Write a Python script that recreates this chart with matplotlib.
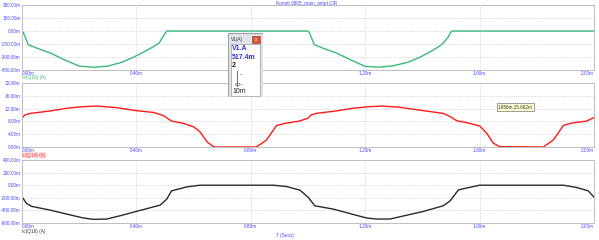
import matplotlib.pyplot as plt
from matplotlib.patches import Rectangle

plt.rcParams['font.family'] = ['Liberation Sans', 'DejaVu Sans']

# ---- data (time in ms, currents in mA) ----
t_ie = [0, 0.005, 0.022, 0.05, 0.1, 0.15, 0.2, 0.25, 0.3, 0.35, 0.39, 0.43, 0.46, 0.48, 0.49, 0.506,
        1.0, 1.005, 1.022, 1.05, 1.1, 1.15, 1.2, 1.25, 1.3, 1.35, 1.39, 1.43, 1.46, 1.473, 1.49, 1.502, 2.0]
ie_q16 = [0, -20, -158, -195, -255, -335, -405, -418, -405, -360, -302, -235, -180, -138, -80, 0,
          0, -20, -158, -195, -255, -335, -408, -418, -400, -360, -305, -235, -175, -138, -70, 0, 0]

t_ic14 = [0, 0.01, 0.028, 0.098, 0.156, 0.214, 0.26, 0.33, 0.40, 0.46, 0.495, 0.523, 0.564, 0.6, 0.622,
          0.648, 0.67, 0.675, 0.82, 0.855, 0.89, 0.92, 0.97, 1.0,
          1.01, 1.028, 1.098, 1.156, 1.214, 1.26, 1.322, 1.40, 1.473, 1.495, 1.52, 1.555, 1.6, 1.625,
          1.648, 1.67, 1.823, 1.858, 1.893, 1.917, 1.974, 2.0]
ic_q14 = [9.0, 10.0, 10.5, 11.25, 12.1, 12.6, 12.8, 12.3, 11.35, 10.8, 9.8, 8.1, 7.4, 6.3, 4.8,
          1.5, 0.1, 0, 0, 2.2, 6.7, 7.4, 8.1, 9.0,
          10.0, 10.5, 11.25, 12.1, 12.6, 12.8, 12.4, 11.4, 10.5, 9.6, 8.2, 7.6, 6.6, 4.3,
          1.2, 0.1, 0, 2.2, 6.7, 7.4, 8.1, 9.2]

t_ic16 = [0, 0.016, 0.034, 0.098, 0.156, 0.214, 0.25, 0.296, 0.343, 0.40, 0.483, 0.506, 0.523, 0.576, 0.622,
          0.879, 0.925, 0.972, 1.001, 1.024, 1.088, 1.205, 1.24, 1.287, 1.322, 1.40, 1.473, 1.497, 1.526,
          1.6, 1.893, 1.94, 1.98, 2.0]
ic_q16 = [-185, -290, -336, -395, -458, -520, -542, -537, -485, -416, -316, -221, -90, -27, 0,
          0, -21, -79, -195, -327, -379, -521, -537, -537, -500, -420, -327, -248, -74,
          0, 0, -37, -90, -190]

x_ticks = [0, 0.4, 0.8, 1.2, 1.6, 2.0]
y_ticks_top = [-450, -300, -150, 0, 150, 300]
y_ticks_mid = [0, 4, 8, 12, 16, 20]
y_ticks_bot = [-600, -400, -200, 0, 200, 400]

BLUE = '#4a4aff'
GRID = '#c8c8c8'
FS = 3.4
W, H = 599, 240

fig = plt.figure(figsize=(5.99, 2.40), dpi=100)
fig.patch.set_facecolor('white')


def panel(top_px, bot_px, t, v, color, yticks, label, label_kw):
    ax = fig.add_axes([22 / W, 1 - bot_px / H, 572 / W, (bot_px - top_px) / H])
    ax.plot(t, v, color=color, lw=1.0)
    ax.set_xlim(0, 2.0)
    ax.set_ylim(yticks[0], yticks[-1])
    ax.set_xticks(x_ticks)
    ax.set_yticks(yticks)
    ax.set_xticklabels([f'{x:.2f}m' for x in x_ticks])
    ax.set_yticklabels([f'{y:.2f}m' for y in yticks])
    ax.xaxis.get_ticklabels()[0].set_horizontalalignment('left')
    ax.xaxis.get_ticklabels()[-1].set_horizontalalignment('right')
    ax.tick_params(length=0, labelsize=FS, labelcolor=BLUE, pad=1)
    ax.grid(True, color=GRID, ls=(0, (1, 1.5)), lw=0.6)
    for s in ax.spines.values():
        s.set_color('#bdbdbd'); s.set_linewidth(0.7)
    fig.text(22 / W, 1 - (bot_px + 8) / H, label, fontsize=FS, va='center', ha='left', **label_kw)
    return ax


panel(5, 70, t_ie, ie_q16, '#3cb878', y_ticks_top, 'Ie(Q16) (A)', dict(color='#3cb878'))
panel(83, 147, t_ic14, ic_q14, '#ff1a1a', y_ticks_mid, 'Ic(Q14) (A)',
      dict(color='#ff2020', bbox=dict(boxstyle='square,pad=0.1', fc='#ffe4e4', ec='none')))
panel(160, 223, t_ic16, ic_q16, '#2a2a2a', y_ticks_bot, 'Ic(Q16) (A)', dict(color='#333333'))

fig.text(307 / W, 1 - 3 / H, 'Konelt 0805_main_ampl.CIR', fontsize=FS, color=BLUE, ha='center', va='center')
fig.text(285 / W, 1 - 236 / H, 'T (Secs)', fontsize=FS, color=BLUE, ha='center', va='center')

# cursor readout tooltip
fig.text(498 / W, 1 - 107 / H, '1.656m,15.662m', fontsize=3.3, color='#333333', ha='left', va='center',
         bbox=dict(boxstyle='square,pad=0.25', fc='#ffffd0', ec='#777777', lw=0.5))

# probe dialog box drawn in pixel coordinates
dlg = fig.add_axes([228 / W, 1 - 97 / H, 35 / W, 64 / H])
dlg.set_xlim(228, 263); dlg.set_ylim(97, 33); dlg.axis('off')
dlg.add_patch(Rectangle((228, 33), 35, 64, fc='#dfe3ea', ec='#8a8f99', lw=0.6))
dlg.add_patch(Rectangle((252, 36), 8, 6.5, fc='#d9553c', ec='#a03020', lw=0.4))
dlg.text(256, 39.3, 'x', fontsize=3.5, color='white', ha='center', va='center')
dlg.text(231, 39.3, 'V1(A)', fontsize=3.4, color='#333333', ha='left', va='center')
dlg.add_patch(Rectangle((230.5, 44), 29.5, 52, fc='white', ec='#9a9a9a', lw=0.5))
dlg.text(232, 49, 'V1.A', fontsize=5, color='#3030e0', ha='left', va='center', fontweight='bold')
dlg.text(232, 57.5, '517.4m', fontsize=5, color='#3030e0', ha='left', va='center', fontweight='bold')
dlg.text(232, 65.5, '2', fontsize=5, color='#222222', ha='left', va='center', fontweight='bold')
dlg.plot([237, 237], [71, 86], color='#555555', lw=0.6)
dlg.plot([239.5, 240.5], [74, 74], color='#777777', lw=0.5)
dlg.plot([239.5, 240.5], [84, 84], color='#777777', lw=0.5)
dlg.add_patch(Rectangle((235, 83), 4, 2, fc='#e8e8e8', ec='#777777', lw=0.4))
dlg.text(232, 91.5, '10m', fontsize=5, color='#222222', ha='left', va='center')

plt.savefig('out.png', dpi=100)
